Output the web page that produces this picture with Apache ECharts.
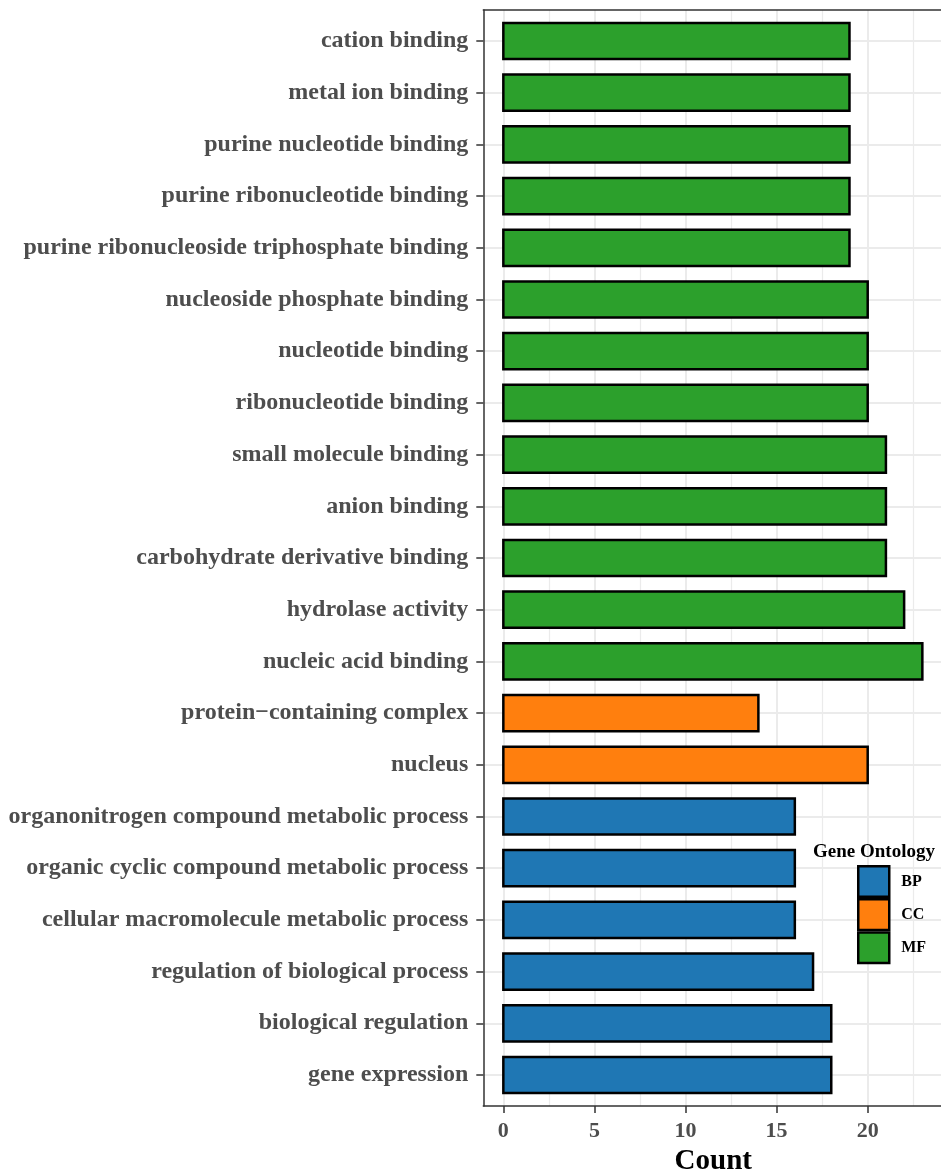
<!DOCTYPE html>
<html>
<head>
<meta charset="utf-8">
<script src="https://cdn.jsdelivr.net/npm/echarts@6/dist/echarts.min.js"></script>
<style>
  html, body { margin: 0; padding: 0; background: #fff; }
  #chart { width: 941px; height: 1173px; }
</style>
</head>
<body>
<div id="chart"></div>
<script>
// GO terms, listed bottom to top
const categories = [
  'gene expression',
  'biological regulation',
  'regulation of biological process',
  'cellular macromolecule metabolic process',
  'organic cyclic compound metabolic process',
  'organonitrogen compound metabolic process',
  'nucleus',
  'protein\u2212containing complex',
  'nucleic acid binding',
  'hydrolase activity',
  'carbohydrate derivative binding',
  'anion binding',
  'small molecule binding',
  'ribonucleotide binding',
  'nucleotide binding',
  'nucleoside phosphate binding',
  'purine ribonucleoside triphosphate binding',
  'purine ribonucleotide binding',
  'purine nucleotide binding',
  'metal ion binding',
  'cation binding'
];
const counts = [18, 18, 17, 16, 16, 16, 20, 14, 23, 22, 21, 21, 21, 20, 20, 20, 19, 19, 19, 19, 19];
const groups = ['BP', 'BP', 'BP', 'BP', 'BP', 'BP', 'CC', 'CC',
  'MF', 'MF', 'MF', 'MF', 'MF', 'MF', 'MF', 'MF', 'MF', 'MF', 'MF', 'MF', 'MF'];
const ontologies = ['BP', 'CC', 'MF'];
const ontologyColors = ['#1f77b4', '#ff7f0e', '#2ca02c'];
const xTicks = [0, 5, 10, 15, 20];
const xMinorTicks = [2.5, 7.5, 12.5, 17.5, 22.5];
const yTicks = categories.map((_, i) => i + 1);

const SERIF = '"Liberation Serif", "Times New Roman", serif';
const BAR_HALF = 0.35;
const GRID = { left: 483.3, top: 10, width: 460, height: 1096 };
const BORDER = { color: '#333', width: 1.5 };

function renderBar(params, api) {
  const v = api.value(0);
  const y = api.value(1);
  const p0 = api.coord([0, y + BAR_HALF]);
  const p1 = api.coord([v, y - BAR_HALF]);
  return {
    type: 'rect',
    shape: { x: p0[0], y: p0[1], width: p1[0] - p0[0], height: p1[1] - p0[1] },
    style: { fill: api.visual('color'), stroke: '#000', lineWidth: 2.5 }
  };
}

const series = ontologies.map((name, k) => ({
  name: name,
  type: 'custom',
  xAxisIndex: 0,
  yAxisIndex: 0,
  color: ontologyColors[k],
  renderItem: renderBar,
  encode: { x: 0, y: 1 },
  z: 5,
  data: counts
    .map((c, i) => [c, i + 1, groups[i]])
    .filter(d => d[2] === name)
    .map(d => [d[0], d[1]])
}));

const chart = echarts.init(document.getElementById('chart'), null, { renderer: 'canvas' });
chart.setOption({
  animation: false,
  backgroundColor: '#fff',
  grid: {
    left: GRID.left, top: GRID.top, width: GRID.width, height: GRID.height,
    show: false, containLabel: false, outerBoundsMode: 'none'
  },
  xAxis: [
    {
      type: 'value',
      min: -1.1,
      max: 24.15,
      position: 'bottom',
      name: 'Count',
      nameLocation: 'middle',
      nameGap: 52,
      nameTextStyle: { fontFamily: SERIF, fontWeight: 'bold', fontSize: 29, color: '#000', verticalAlign: 'middle' },
      axisLine: { show: true, onZero: false, lineStyle: BORDER },
      axisTick: { show: true, length: 7, customValues: xTicks, lineStyle: BORDER },
      axisLabel: {
        customValues: xTicks, margin: 14,
        fontFamily: SERIF, fontWeight: 'bold', fontSize: 22, color: '#4d4d4d'
      },
      splitLine: { show: true, lineStyle: { color: '#ebebeb', width: 2 } }
    },
    {
      // top edge of the panel plus the minor vertical grid
      type: 'value',
      min: -1.1,
      max: 24.15,
      position: 'top',
      axisLine: { show: true, onZero: false, lineStyle: BORDER },
      axisTick: { show: false, customValues: xMinorTicks },
      axisLabel: { show: false, customValues: xMinorTicks },
      splitLine: { show: true, lineStyle: { color: '#ebebeb', width: 1.2 } }
    }
  ],
  yAxis: {
    type: 'value',
    min: 0.4,
    max: 21.6,
    axisLine: { show: true, onZero: false, lineStyle: BORDER },
    axisTick: { show: true, length: 7, customValues: yTicks, lineStyle: BORDER },
    axisLabel: {
      customValues: yTicks,
      margin: 15,
      fontFamily: SERIF, fontWeight: 'bold', fontSize: 24, color: '#4d4d4d',
      verticalAlign: 'middle',
      formatter: v => categories[Math.round(v) - 1]
    },
    splitLine: { show: true, lineStyle: { color: '#ebebeb', width: 2 } }
  },
  legend: {
    data: ontologies,
    orient: 'vertical',
    left: 857,
    top: 865,
    padding: 0,
    itemGap: 0,
    itemWidth: 31,
    itemHeight: 30.6,
    icon: 'rect',
    itemStyle: { borderColor: '#000', borderWidth: 2.5 },
    textStyle: { fontFamily: SERIF, fontWeight: 'bold', fontSize: 16, color: '#000', padding: [0, 0, 0, 7] },
    selectedMode: false
  },
  graphic: [
    {
      type: 'text',
      left: 813,
      top: 843,
      z: 100,
      style: { text: 'Gene Ontology', fontFamily: SERIF, fontWeight: 'bold', fontSize: 19, fill: '#000' }
    }
  ],
  series: series
});
</script>
</body>
</html>
